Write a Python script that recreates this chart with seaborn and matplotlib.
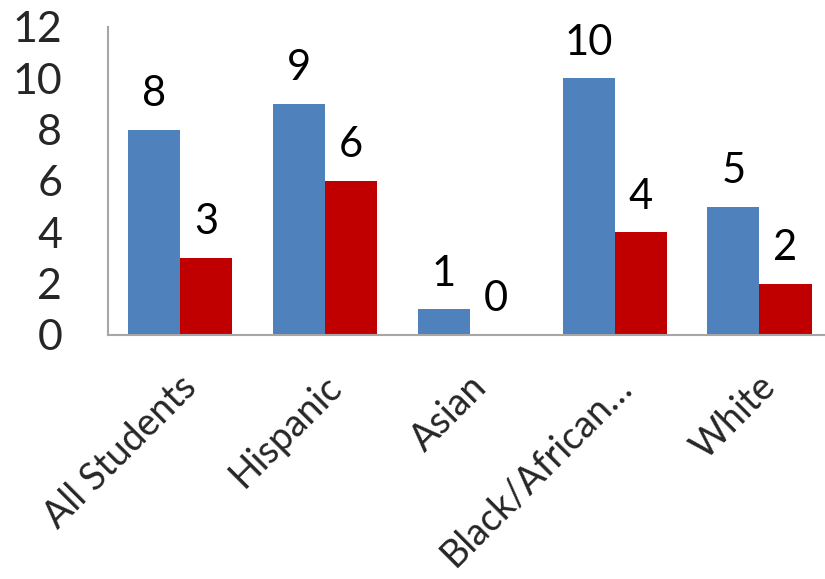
import matplotlib
matplotlib.use("Agg")
import matplotlib.pyplot as plt
import matplotlib.transforms as mtransforms
import seaborn as sns
import pandas as pd

categories = ["All Students", "Hispanic", "Asian", "Black/African…", "White"]
series_names = ["Series 1", "Series 2"]
values_blue = [8, 9, 1, 10, 5]
values_red = [3, 6, 0, 4, 2]
yticks = [0, 2, 4, 6, 8, 10, 12]

df = pd.DataFrame({
    "cat": categories * 2,
    "series": [series_names[0]] * len(categories) + [series_names[1]] * len(categories),
    "val": values_blue + values_red,
})

sns.set_theme(style="white")
plt.rcParams["font.family"] = ["Lato", "DejaVu Sans"]

fig = plt.figure(figsize=(8.25, 5.79), dpi=100)
ax = fig.add_axes([108 / 825, 1 - 335 / 579, (825 - 108) / 825, (335 - 27) / 579])

sns.barplot(data=df, x="cat", y="val", hue="series", order=categories,
            hue_order=series_names, palette=["#4F81BD", "#C00000"],
            width=0.72, gap=0, saturation=1, legend=False, ax=ax)

for p in ax.patches:
    p.set_edgecolor("none")

for cont in ax.containers:
    ax.bar_label(cont, fmt="%d", padding=12, fontsize=30, color="black")

ax.set_ylim(0, 12)
ax.set_xlim(-0.5, 4.453)
ax.set_yticks(yticks)
ax.set_yticklabels([str(t) for t in yticks], fontsize=31)
ax.tick_params(axis="y", length=0, pad=33)
ax.tick_params(axis="x", length=0, pad=14)
ax.set_xticks(range(len(categories)))
ax.set_xticklabels(categories, fontsize=27, rotation=45, ha="right",
                   rotation_mode="anchor")
offset = mtransforms.ScaledTranslation(-2 / 100, -14 / 100, fig.dpi_scale_trans)
for lbl in ax.get_xticklabels():
    lbl.set_transform(lbl.get_transform() + offset)
ax.set_xlabel("")
ax.set_ylabel("")
for s in ["top", "right"]:
    ax.spines[s].set_visible(False)
for s in ["left", "bottom"]:
    ax.spines[s].set_color("#A6A6A6")
    ax.spines[s].set_linewidth(1.5)

fig.savefig("out.png", dpi=100)
